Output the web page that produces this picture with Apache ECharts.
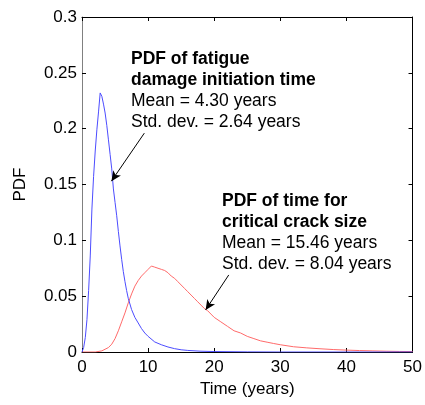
<!DOCTYPE html>
<html>
<head>
<meta charset="utf-8">
<script src="https://cdn.jsdelivr.net/npm/echarts@6/dist/echarts.min.js"></script>
<style>
html,body{margin:0;padding:0;background:#fff;}
#chart{width:425px;height:405px;}
</style>
</head>
<body>
<div id="chart"></div>
<script>
// Time (years) sample points and PDF values
const blueX = [0,0.25,0.5,0.75,1,1.25,1.5,1.75,2,2.25,2.5,2.75,3,3.25,3.5,3.75,4,4.25,4.5,4.75,5,5.25,5.5,5.75,6,6.25,6.5,6.75,7,7.5,8,8.5,9,9.5,10,11,12,13,14,15,16,18,20,25,30,50];
const blueY = [0,0.004,0.013,0.029,0.055,0.086,0.128,0.157,0.180,0.199,0.215,0.232,0.229,0.222,0.214,0.203,0.190,0.177,0.164,0.146,0.134,0.122,0.108,0.095,0.083,0.072,0.063,0.055,0.048,0.038,0.031,0.026,0.021,0.017,0.014,0.009,0.0065,0.0045,0.003,0.002,0.0014,0.0007,0.0004,0.0001,0,0];

const redX = [0,2,3,4,4.5,5,5.5,6,6.5,7,7.5,8,8.5,9,9.5,10,10.5,11,11.5,12,12.5,13,13.5,14,14.5,15,15.5,16,16.5,17,17.5,18,18.5,19,19.5,20,21,22,23,24,25,26,27,28,29,30,32,34,36,38,40,42,44,46,48,50];
const redY = [0,0,0.001,0.004,0.007,0.012,0.019,0.027,0.035,0.044,0.052,0.059,0.064,0.068,0.071,0.074,0.077,0.076,0.075,0.074,0.073,0.071,0.068,0.066,0.063,0.060,0.057,0.054,0.051,0.048,0.045,0.042,0.039,0.037,0.034,0.031,0.027,0.023,0.019,0.017,0.014,0.012,0.010,0.0088,0.0076,0.0065,0.0047,0.0037,0.0029,0.0022,0.0017,0.0013,0.001,0.0007,0.0005,0.0004];

const xTicks = [0,10,20,30,40,50];
const yTicks = [0,0.05,0.1,0.15,0.2,0.25,0.3];

const note1 = ['PDF of fatigue','damage initiation time','Mean = 4.30 years','Std. dev. = 2.64 years'];
const note2 = ['PDF of time for','critical crack size','Mean = 15.46 years','Std. dev. = 8.04 years'];

const FONT = '"Liberation Sans", Arial, sans-serif';
const chart = echarts.init(document.getElementById('chart'), null, {renderer:'canvas'});

function pairs(xs, ys){ return xs.map((x,i)=>[x, ys[i]]); }

function noteTexts(lines, x, y0, step){
  return lines.map((t,i)=>({
    type:'text', left:x, top:y0 + i*step, silent:true,
    style:{text:t, fill:'#000', font:(i<2?'bold ':'') + '17.5px ' + FONT}
  }));
}

const axisCommon = {
  type:'value',
  splitLine:{show:false},
  axisTick:{show:true, inside:true, length:4, lineStyle:{color:'#000', width:1}},
  axisLine:{show:true, onZero:false, lineStyle:{color:'#000', width:1}}
};

const option = {
  animation:false,
  backgroundColor:'#fff',
  grid:{left:82, right:9, top:17, bottom:53, containLabel:false},
  xAxis:[
    Object.assign({}, axisCommon, {
      position:'bottom', min:xTicks[0], max:xTicks[xTicks.length-1], interval:10,
      name:'Time (years)', nameLocation:'middle', nameGap:27,
      nameTextStyle:{fontFamily:FONT, fontSize:17, color:'#000'},
      axisLabel:{show:true, margin:7, fontFamily:FONT, fontSize:17, color:'#000'}
    }),
    Object.assign({}, axisCommon, {
      position:'top', min:xTicks[0], max:xTicks[xTicks.length-1], interval:10,
      axisLabel:{show:false}
    })
  ],
  yAxis:[
    Object.assign({}, axisCommon, {
      position:'left', min:yTicks[0], max:yTicks[yTicks.length-1], interval:0.05,
      name:'PDF', nameLocation:'middle', nameGap:53,
      nameTextStyle:{fontFamily:FONT, fontSize:17, color:'#000'},
      axisLine:{show:true, onZero:false, lineStyle:{color:'#808080', width:1}},
      axisLabel:{show:true, margin:5, fontFamily:FONT, fontSize:17, color:'#000',
        formatter:(v)=>String(Math.round(v*100)/100)}
    }),
    Object.assign({}, axisCommon, {
      position:'right', min:yTicks[0], max:yTicks[yTicks.length-1], interval:0.05,
      axisLabel:{show:false}
    })
  ],
  series:[
    {
      type:'line', xAxisIndex:0, yAxisIndex:0, showSymbol:false, symbol:'none',
      data:pairs(redX, redY), lineStyle:{color:'#ff6a6a', width:1}, z:2,
      markLine:{
        silent:true, symbol:['none','arrow'], symbolSize:[7,10], animation:false,
        label:{show:false}, lineStyle:{color:'#000', width:1, type:'solid'},
        data:[[{coord:[22.2,0.069]},{coord:[18.7,0.0377]}]]
      }
    },
    {
      type:'line', xAxisIndex:0, yAxisIndex:0, showSymbol:false, symbol:'none',
      data:pairs(blueX, blueY), lineStyle:{color:'#4c4cff', width:1}, z:3,
      markLine:{
        silent:true, symbol:['none','arrow'], symbolSize:[7,10], animation:false,
        label:{show:false}, lineStyle:{color:'#000', width:1, type:'solid'},
        data:[[{coord:[9.43,0.196]},{coord:[4.45,0.153]}]]
      }
    }
  ],
  graphic: noteTexts(note1, 131, 50, 21).concat(noteTexts(note2, 222, 192, 21))
};
chart.setOption(option);
</script>
</body>
</html>
